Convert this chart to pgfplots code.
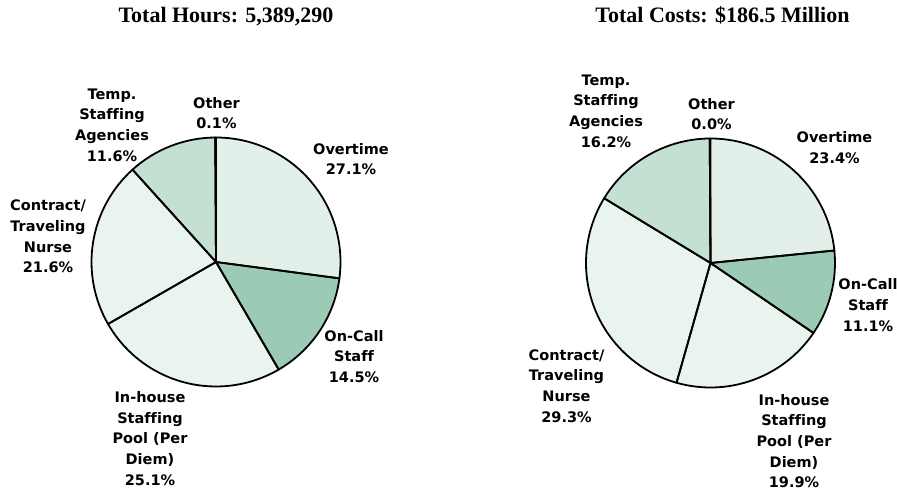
\documentclass[border=0pt]{standalone}
\usepackage{fontspec}
\usepackage{pgfplots}
\usepackage{pgfplotstable}
\pgfplotsset{compat=1.18}
\setmainfont{Liberation Serif}
\newfontfamily\labfont{DejaVu Sans}[Ligatures=NoCommon]
\definecolor{cOver}{RGB}{227,240,233}
\definecolor{cCall}{RGB}{155,203,180}
\definecolor{cPool}{RGB}{233,244,238}
\definecolor{cTemp}{RGB}{195,224,210}

\pgfplotstableread{
value color
27.1 cOver
14.5 cCall
25.1 cPool
21.6 cPool
11.6 cTemp
0.1 cPool
}\hourstable
\pgfplotstableread{
value color
23.4 cOver
11.1 cCall
19.9 cPool
29.3 cPool
16.2 cTemp
0.0 cPool
}\coststable

\newcommand\drawpie[4]{%
  \pgfplotstablegetrowsof{#1}%
  \pgfmathtruncatemacro\lastrow{\pgfplotsretval-1}%
  \gdef\cum{0}%
  \foreach \i in {0,...,\lastrow}{%
    \pgfplotstablegetelem{\i}{value}\of{#1}\let\wval\pgfplotsretval
    \pgfplotstablegetelem{\i}{color}\of{#1}\let\wcol\pgfplotsretval
    \pgfmathsetmacro\aS{90-3.6*\cum}%
    \pgfmathsetmacro\aE{90-3.6*(\cum+\wval)}%
    \fill[\wcol] (axis cs:#2,#3) -- ++(\aS:#4) arc[start angle=\aS, end angle=\aE, radius=#4] -- cycle;
    \pgfmathsetmacro\newcum{\cum+\wval}%
    \xdef\cum{\newcum}%
  }%
  \gdef\cum{0}%
  \foreach \i in {0,...,\lastrow}{%
    \pgfplotstablegetelem{\i}{value}\of{#1}\let\wval\pgfplotsretval
    \pgfmathsetmacro\aS{90-3.6*\cum}%
    \pgfmathsetmacro\aE{90-3.6*(\cum+\wval)}%
    \draw[black, line width=1.8bp, line join=round] (axis cs:#2,#3) -- ++(\aS:#4) arc[start angle=\aS, end angle=\aE, radius=#4] -- cycle;
    \pgfmathsetmacro\newcum{\cum+\wval}%
    \xdef\cum{\newcum}%
  }%
}

\begin{document}
\begin{tikzpicture}[lab/.style={align=center, font=\labfont\bfseries\fontsize{14.5bp}{20.7bp}\selectfont, inner sep=0pt},
  ttl/.style={anchor=base, font=\bfseries\fontsize{22bp}{26bp}\selectfont, inner sep=0pt}]
\useasboundingbox (0,0) rectangle (897bp,492bp);
\begin{axis}[at={(0,0)}, anchor=south west, width=897bp, height=492bp, scale only axis,
  xmin=0, xmax=897, ymin=0, ymax=492, hide axis, clip=false]
\pgfplotsextra{\drawpie{\hourstable}{216}{230}{124.5bp}}
\pgfplotsextra{\drawpie{\coststable}{710.5}{229}{124.5bp}}
\node[ttl] at (axis cs:226,469) {Total Hours: 5,389,290};
\node[ttl] at (axis cs:722.5,469) {Total Costs: \$186.5 Million};
% left labels
\node[lab] at (axis cs:216.5,379) {Other\\0.1\%};
\node[lab] at (axis cs:351,333) {Overtime\\27.1\%};
\node[lab] at (axis cs:112,367) {Temp.\\Staffing\\Agencies\\11.6\%};
\node[lab] at (axis cs:48,255.5) {Contract/\\Traveling\\Nurse\\21.6\%};
\node[lab] at (axis cs:354,135.5) {On-Call\\Staff\\14.5\%};
\node[lab] at (axis cs:150,53.5) {In-house\\Staffing\\Pool (Per\\Diem)\\25.1\%};
% right labels
\node[lab] at (axis cs:711.5,378) {Other\\0.0\%};
\node[lab] at (axis cs:606,381) {Temp.\\Staffing\\Agencies\\16.2\%};
\node[lab] at (axis cs:834.5,344.5) {Overtime\\23.4\%};
\node[lab] at (axis cs:868,187) {On-Call\\Staff\\11.1\%};
\node[lab] at (axis cs:566.5,106) {Contract/\\Traveling\\Nurse\\29.3\%};
\node[lab] at (axis cs:794,51) {In-house\\Staffing\\Pool (Per\\Diem)\\19.9\%};
\end{axis}
\end{tikzpicture}
\end{document}
